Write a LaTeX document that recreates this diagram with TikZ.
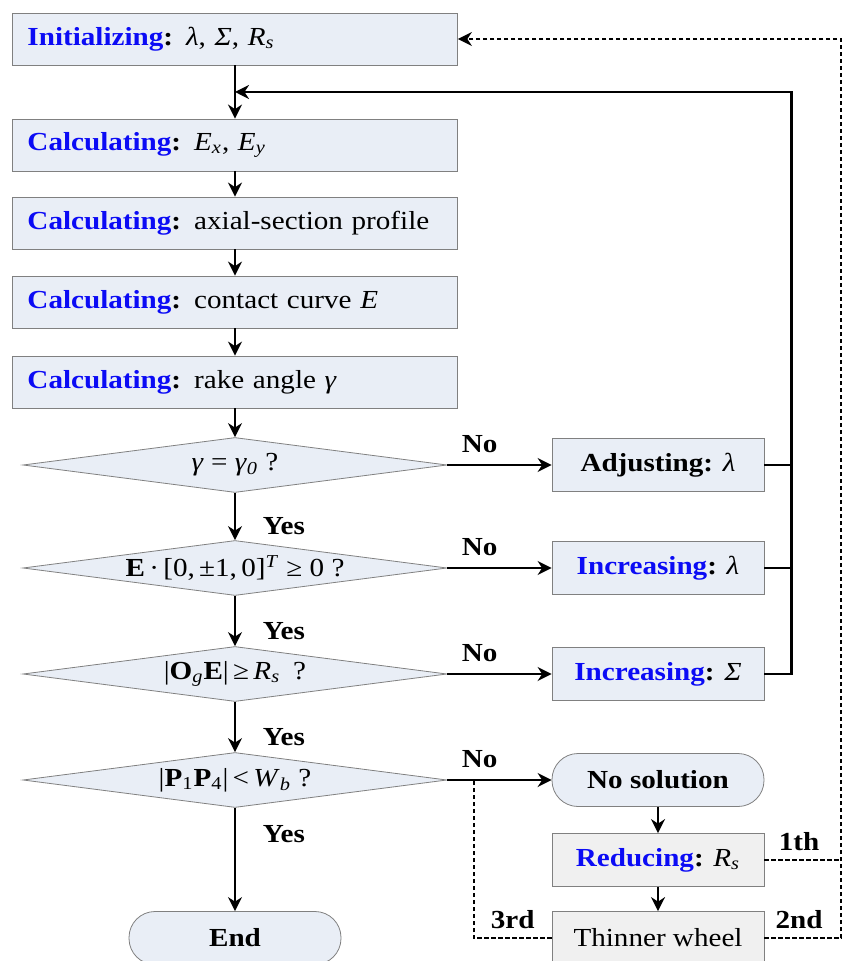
\documentclass[tikz,border=0pt]{standalone}
\usepackage{fontspec}
\setmainfont{Liberation Serif}[FakeStretch=1.12]
\usepackage{tikz}
\usetikzlibrary{shapes.geometric, arrows.meta}

\definecolor{boxfill}{HTML}{E9EEF6}
\definecolor{greyfill}{HTML}{F0F0F0}
\definecolor{boxline}{HTML}{808080}
\definecolor{keyblue}{HTML}{0B0BF5}

\newcommand{\mainsize}{\fontsize{13pt}{15.6pt}\selectfont}
\newcommand{\kw}[1]{\textbf{\textcolor{keyblue}{#1}}}
\newcommand{\sub}[1]{\textsubscript{#1}}

\tikzstyle{process} = [rectangle, minimum width=222.5pt, minimum height=26pt, text width=207.5pt, align=left, inner xsep=7.5pt, draw=boxline, fill=boxfill]
\tikzstyle{action} = [rectangle, minimum width=106pt, minimum height=26.5pt, text centered, draw=boxline, fill=boxfill]
\tikzstyle{fixbox} = [action, fill=greyfill]
\tikzstyle{decision} = [diamond, aspect=7.7, minimum width=212pt, minimum height=27.5pt, inner sep=0pt, text centered, draw=boxline, fill=boxfill]
\tikzstyle{startstop} = [rectangle, rounded corners=13pt, minimum width=106pt, minimum height=26.5pt, text centered, draw=boxline, fill=boxfill, font=\mainsize\bfseries]
\tikzstyle{arrow} = [line width=1.2pt, -{Stealth[length=7pt,width=7pt]}]
\tikzstyle{line} = [line width=1.2pt]
\tikzstyle{dotline} = [line width=1pt, dash pattern=on 2.2pt off 1.3pt]
\tikzstyle{yesno} = [font=\mainsize\bfseries]

\begin{document}
\begin{tikzpicture}[node distance=40pt, font=\mainsize]
\useasboundingbox (-117.5pt,19.5pt) rectangle (305.5pt,-461pt);

\node (init) [process] {\kw{Initializing}\textbf{:}\enspace\textit{λ}, \textit{Σ}, \textit{R}\sub{\textit{s}}};
\node (calc1) [process, below of=init, yshift=-13pt] {\kw{Calculating}\textbf{:} \textit{E}\sub{\textit{x}}, \textit{E}\sub{\textit{y}}};
\node (calc2) [process, below of=calc1, yshift=1pt] {\kw{Calculating}\textbf{:} axial-section profile};
\node (calc3) [process, below of=calc2, yshift=0.5pt] {\kw{Calculating}\textbf{:} contact curve \textit{E}};
\node (calc4) [process, below of=calc3] {\kw{Calculating}\textbf{:} rake angle \textit{γ}};
\node (dec1) [decision, below of=calc4, yshift=-1.5pt] {\textit{γ} = \textit{γ}\sub{\textit{0}} ?};
\node (dec2) [decision, below of=dec1, yshift=-11.5pt] {\textbf{E}\,·\,[0,\,±1,\,0]\textsuperscript{\textit{T}} ≥ 0 ?};
\node (dec3) [decision, below of=dec2, yshift=-13pt] {|\textbf{O}\sub{\textit{g}}\textbf{E}|\,≥\,\textit{R}\sub{\textit{s}}\enspace ?};
\node (dec4) [decision, below of=dec3, yshift=-13pt] {|\textbf{P}\sub{1}\textbf{P}\sub{4}|\,<\,\textit{W}\sub{\textit{b}} ?};
\node (stop) [startstop, below of=dec4, yshift=-39pt] {End};

\node (adj) [action, right of=dec1, xshift=171.5pt] {\textbf{Adjusting:} \textit{λ}};
\node (incl) [action, right of=dec2, xshift=171.5pt] {\kw{Increasing}\textbf{:} \textit{λ}};
\node (incs) [action, right of=dec3, xshift=171.5pt] {\kw{Increasing}\textbf{:} \textit{Σ}};
\node (nosol) [startstop, right of=dec4, xshift=171.5pt] {No solution};
\node (reduce) [fixbox, below of=nosol] {\kw{Reducing}\textbf{:} \textit{R}\sub{\textit{s}}};
\node (thin) [fixbox, below of=reduce, yshift=1pt] {Thinner wheel};

\coordinate [below of=init, yshift=13.5pt] (join);

% retry loops
\draw [dotline] (reduce.east) -- node[yesno, anchor=south, pos=0.45, yshift=1pt] {1th} +(38.5pt,0);
\draw [dotline, -{Stealth[length=7pt,width=7pt]}] (thin.east) -- node[yesno, anchor=south, pos=0.45, yshift=1pt] {2nd} +(38.5pt,0) |- (init.east);
\draw [dotline] (thin.west) -- node[yesno, anchor=south, yshift=1pt] {3rd} +(-39pt,0) |- (dec4.east);

\draw [arrow] (init) -- (calc1);
\draw [arrow] (calc1) -- (calc2);
\draw [arrow] (calc2) -- (calc3);
\draw [arrow] (calc3) -- (calc4);
\draw [arrow] (calc4) -- (dec1);
\draw [arrow] (dec1) -- node[yesno, anchor=west, pos=0.7, xshift=10pt] {Yes} (dec2);
\draw [arrow] (dec2) -- node[yesno, anchor=west, pos=0.7, xshift=10pt] {Yes} (dec3);
\draw [arrow] (dec3) -- node[yesno, anchor=west, pos=0.7, xshift=10pt] {Yes} (dec4);
\draw [arrow] (dec4) -- node[yesno, anchor=west, pos=0.25, xshift=10pt] {Yes} (stop);
\draw [arrow] (dec1) -- node[yesno, anchor=south, pos=0.31, yshift=2pt] {No} (adj);
\draw [arrow] (dec2) -- node[yesno, anchor=south, pos=0.31, yshift=2pt] {No} (incl);
\draw [arrow] (dec3) -- node[yesno, anchor=south, pos=0.31, yshift=2pt] {No} (incs);
\draw [arrow] (dec4) -- node[yesno, anchor=south, pos=0.31, yshift=2pt] {No} (nosol);
\draw [arrow] (nosol) -- (reduce);
\draw [arrow] (reduce) -- (thin);

% back to the start of the loop
\draw [line] (adj.east) -- +(13.5pt,0);
\draw [line] (incl.east) -- +(13.5pt,0);
\draw [arrow] (incs.east) -- +(13.5pt,0) |- (join);

\end{tikzpicture}
\end{document}
